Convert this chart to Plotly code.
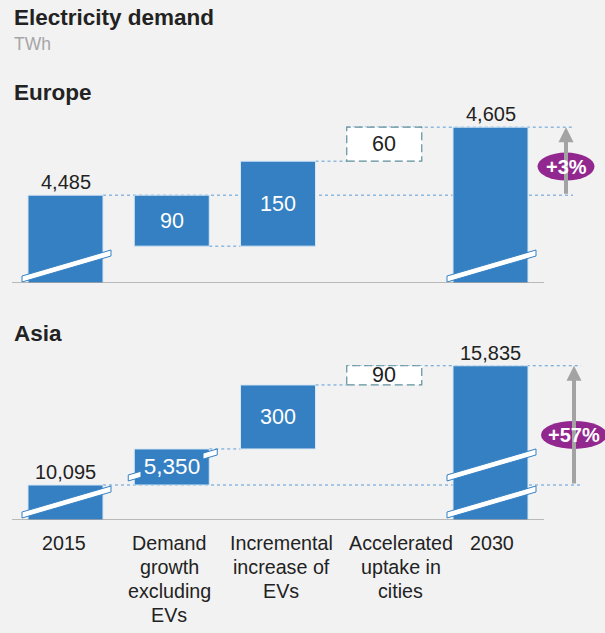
import plotly.graph_objects as go

# ---- data -------------------------------------------------------------
step_labels = [
    ["2015"],
    ["Demand", "growth", "excluding", "EVs"],
    ["Incremental", "increase of", "EVs"],
    ["Accelerated", "uptake in", "cities"],
    ["2030"],
]
measures = ["absolute", "relative", "relative", "relative", "total"]
scenario_step = [False, False, False, True, False]   # dashed "what-if" step

europe_twh = [4485, -90, 150, 60, 4605]
asia_twh = [10095, 5350, 300, 90, 15835]

# ---- styling / geometry ----------------------------------------------
W, H = 605, 633
BG = "#F2F2F2"
BLUE = "#3580C3"
DOT = "#5B9BD5"
GREY_ARROW = "#A3A3A3"
PURPLE = "#92278F"
DASH_BORDER = "#5F8F9C"
TEXT = "#222222"
FONT = "Liberation Sans, Arial, sans-serif"

SLOT_PX = 106.25          # distance between step centres
FIRST_PX = 65.5           # centre of the first step
BAR_W = 75 / SLOT_PX      # bar width in axis units


def px_to_x(px):
    return (px - FIRST_PX) / SLOT_PX


panels = [
    dict(name="Europe", values=europe_twh, yref="y", axis="yaxis",
         top_px=100, base_px=283, floor=4330, px_per=85 / 150,
         brk=None, arrow_px=566, line_end_px=573, floor_mark_px=17,
         pill_w=57, head_y=92),
    dict(name="Asia", values=asia_twh, yref="y2", axis="yaxis2",
         top_px=340, base_px=520, floor=9931, px_per=64 / 300,
         brk=(10189, 15370), arrow_px=574, line_end_px=581, floor_mark_px=18,
         pill_w=66, head_y=333),
]


def make_disp(brk):
    def disp(v):
        if brk is None:
            return v
        lo, hi = brk
        if v <= lo:
            return v
        if v >= hi:
            return v - (hi - lo)
        return lo
    return disp


def waterfall(vals):
    bases, tops, run = [], [], 0
    for v, m in zip(vals, measures):
        if m == "absolute":
            run = v
            bases.append(0)
            tops.append(v)
        elif m == "relative":
            bases.append(run)
            run += v
            tops.append(run)
        else:
            bases.append(0)
            tops.append(v)
    return bases, tops


fig = go.Figure()
shapes, annotations = [], []
xs = list(range(len(step_labels)))

for p in panels:
    disp = make_disp(p["brk"])
    bases, tops = waterfall(p["values"])
    yref = p["yref"]
    px_per = p["px_per"]

    d_base = [disp(b) for b in bases]
    d_top = [disp(t) for t in tops]

    fig.add_trace(go.Bar(
        x=xs, base=d_base, y=[t - b for t, b in zip(d_top, d_base)],
        width=BAR_W, yaxis=yref,
        marker=dict(color=["white" if s else BLUE for s in scenario_step],
                    line=dict(color=["rgba(0,0,0,0)" if s else "#D6E6F4" for s in scenario_step],
                              width=1)),
        hoverinfo="skip", showlegend=False,
    ))

    half = BAR_W / 2
    line_end = px_to_x(p["line_end_px"])
    dot = dict(color=DOT, width=1, dash="dot")

    # connectors
    def hline(x0, x1, y):
        shapes.append(dict(type="line", xref="x", yref=yref, x0=x0, x1=x1,
                           y0=y, y1=y, line=dot, layer="below"))

    hline(0 + half, line_end, d_top[0])
    for i in (1, 2):
        hline(i + half, i + 1 - half, d_top[i])
    hline(3 - half, line_end, d_top[4])

    # dashed outline of the scenario step
    for i, s in enumerate(scenario_step):
        if s:
            shapes.append(dict(type="rect", xref="x", yref=yref,
                               x0=i - half, x1=i + half, y0=d_base[i], y1=d_top[i],
                               line=dict(color=DASH_BORDER, width=1.2, dash="8px,4px"),
                               layer="above"))

    # axis-break marks
    def break_mark(xc, yc):
        xl = xc - half - 6 / SLOT_PX
        xr = xc + half + 8 / SLOT_PX
        rise = 13 / px_per
        th = 3 / px_per
        path = (f"M{xl},{yc - rise - th} L{xr},{yc + rise - th} "
                f"L{xr},{yc + rise + th} L{xl},{yc - rise + th} Z")
        shapes.append(dict(type="path", xref="x", yref=yref, path=path,
                           fillcolor="white", line=dict(color=BLUE, width=1),
                           layer="above"))

    floor_mark = p["floor"] + p["floor_mark_px"] / px_per
    for i, b in enumerate(bases):
        if b < p["floor"]:
            break_mark(i, floor_mark)
        if p["brk"] is not None and b < p["brk"][0] and tops[i] > p["brk"][1]:
            break_mark(i, p["brk"][0])

    # value labels
    for i, m in enumerate(measures):
        v = p["values"][i]
        txt = f"{abs(v):,}"
        if m in ("absolute", "total"):
            annotations.append(dict(x=i, y=d_top[i], xref="x", yref=yref,
                                    text=txt, showarrow=False, yanchor="bottom",
                                    font=dict(family=FONT, size=20, color=TEXT)))
        else:
            ycen = (d_base[i] + d_top[i]) / 2
            crossed = p["brk"] is not None and bases[i] < p["brk"][0] and tops[i] > p["brk"][1]
            ann = dict(x=i, y=ycen, xref="x", yref=yref, text=txt, showarrow=False,
                       yanchor="middle",
                       font=dict(family=FONT, size=21.5,
                                 color=TEXT if scenario_step[i] else "white"))
            if crossed:
                ann.update(bgcolor=BLUE, width=60, borderpad=1,
                           font=dict(family=FONT, size=22.5, color="white"))
            annotations.append(ann)

    # growth arrow with percentage pill
    start, end = p["values"][0], p["values"][-1]
    ax = px_to_x(p["arrow_px"])
    y_lo, y_hi = disp(start), disp(end)
    annotations.append(dict(x=ax, y=y_hi, ax=ax, ay=y_lo, xref="x", yref=yref,
                            axref="x", ayref=yref, text="", showarrow=True,
                            arrowhead=2, arrowsize=0.75, arrowwidth=4,
                            arrowcolor=GREY_ARROW, standoff=0, startstandoff=0))
    y_mid = y_lo + 0.42 * (y_hi - y_lo)
    pw = p["pill_w"]
    shapes.append(dict(type="circle", xref="x", yref=yref, xsizemode="pixel",
                       ysizemode="pixel", xanchor=ax, yanchor=y_mid,
                       x0=-pw / 2, x1=pw / 2, y0=-14, y1=14,
                       fillcolor=PURPLE, line=dict(width=0), layer="above"))
    pct = round((end / start - 1) * 100)
    annotations.append(dict(x=ax, y=y_mid, xref="x", yref=yref, text=f"<b>+{pct}%</b>",
                            showarrow=False,
                            font=dict(family=FONT, size=20, color="white")))

    # baseline
    shapes.append(dict(type="line", xref="paper", yref=yref, x0=12 / W, x1=544 / W,
                       y0=p["floor"], y1=p["floor"],
                       line=dict(color="#A6A6A6", width=1.5), layer="above"))

    # panel heading
    annotations.append(dict(x=12 / W, y=1 - p["head_y"] / H, xref="paper", yref="paper",
                            text=f"<b>{p['name']}</b>", showarrow=False,
                            xanchor="left", yanchor="middle",
                            font=dict(family=FONT, size=22.5, color=TEXT)))

# step labels under the lower panel, one annotation per text line
label_shift = [-2, -2.5, 3, 16.5, 1]
for i, lines in enumerate(step_labels):
    for k, line in enumerate(lines):
        annotations.append(dict(x=i, y=1 - (543 + 24 * k) / H, xref="x", yref="paper",
                                text=line, showarrow=False, yanchor="middle",
                                xshift=label_shift[i],
                                font=dict(family=FONT, size=19.7, color=TEXT)))

annotations.append(dict(x=12 / W, y=1 - 18 / H, xref="paper", yref="paper",
                        text="<b>Electricity demand</b>", showarrow=False,
                        xanchor="left", yanchor="middle",
                        font=dict(family=FONT, size=22.5, color=TEXT)))
annotations.append(dict(x=12 / W, y=1 - 44 / H, xref="paper", yref="paper",
                        text="TWh", showarrow=False, xanchor="left", yanchor="middle",
                        font=dict(family=FONT, size=17.5, color="#A6A6A6")))

layout_axes = {}
for p in panels:
    span = (p["base_px"] - p["top_px"]) / p["px_per"]
    layout_axes[p["axis"]] = dict(
        domain=[1 - p["base_px"] / H, 1 - p["top_px"] / H],
        range=[p["floor"], p["floor"] + span], visible=False, fixedrange=True)
layout_axes["yaxis2"]["anchor"] = "x"

fig.update_layout(
    width=W, height=H, margin=dict(l=0, r=0, t=0, b=0),
    paper_bgcolor=BG, plot_bgcolor=BG, barmode="overlay",
    xaxis=dict(range=[px_to_x(0), px_to_x(W)], visible=False, fixedrange=True),
    shapes=shapes, annotations=annotations,
    **layout_axes,
)

fig.write_html("out.html", config={"displayModeBar": False})
